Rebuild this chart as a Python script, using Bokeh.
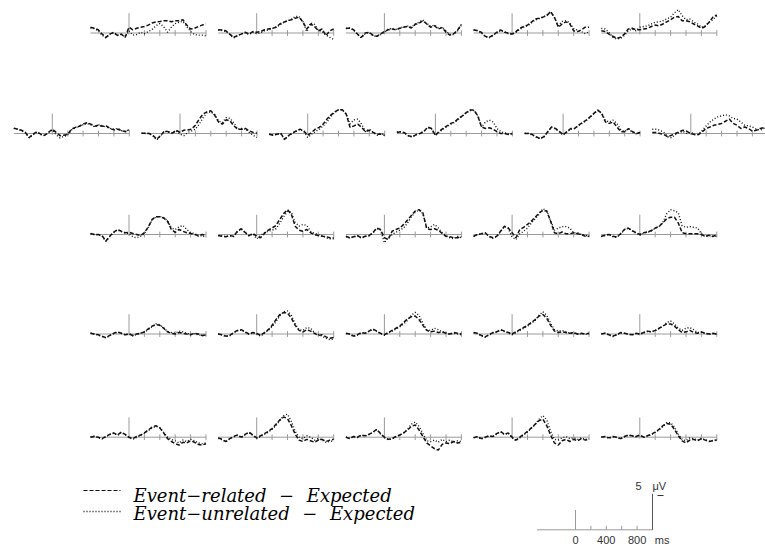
from bokeh.plotting import figure
from bokeh.models import Range1d
from bokeh.core.properties import value
from bokeh.embed import file_html
from bokeh.resources import INLINE

# ---------------- data (µV, sampled every 50 ms from -500 to 1000 ms) ----------------
TIMES = list(range(-500, 1001, 50))
TICKS = [200, 400, 600, 800, 1000]
SCALE_LABELS = ["0", "400", "800"]
SCALE_LABEL_TIMES = [0, 400, 800]
SP = "\u2002\u2009"
LEGEND_LABELS = ["Event\u2212related" + SP + "\u2212" + SP + "Expected",
                 "Event\u2212unrelated" + SP + "\u2212" + SP + "Expected"]

related_row1 = [
    [0.8,0.65,0.45,-0.15,-0.6,-0.15,0.1,-0.35,-0.15,-0.6, 0.8,0.45,0.65,0.8,0.9,1.1,1.4,1.55,1.6,1.7, 1.7,1.55,1.7,1.7,1.85,1.1,0.55,0.65,0.9,1.1, 1.25],
    [0.45,0.4,0.3,-0.15,-0.6,-0.35,-0.15,0.1,-0.15,0.2, 0.1,0.2,0.45,0.55,0.65,0.8,1.25,1.5,1.7,1.85, 2.05,2.2,1.55,0.55,1.25,0.9,0.3,0.55,-0.35,0.3, 0.55],
    [0.65,0.65,0.45,-0.15,-0.6,0.0,0.1,-0.3,-0.45,-0.15, 0.2,0.45,0.55,0.45,0.65,0.8,0.9,0.7,1.2,1.35, 1.7,1.25,0.8,1.0,0.55,0.75,0.1,-0.3,-0.1,0.4, 1.2],
    [0.45,0.3,0.1,-0.45,-0.6,-0.35,0.1,0.45,0.1,0.0, -0.15,0.2,0.65,0.9,1.1,1.5,1.95,2.05,2.2,2.4, 2.95,2.2,0.8,1.25,1.55,1.25,0.3,0.2,0.45,0.8, 0.8],
    [0.3,0.2,-0.15,-0.45,-0.75,-0.6,-0.15,0.55,0.65,0.45, 0.45,0.55,0.65,0.9,1.1,1.0,1.25,1.55,1.85,2.2, 2.3,1.7,1.7,1.55,1.25,1.0,0.65,0.9,1.5,2.2, 2.5],
]
unrelated_row1 = [
    [0.7,0.6,0.3,-0.3,-0.7,-0.2,0.0,-0.3,-0.2,-0.5, 0.3,-0.3,-0.2,0.1,-0.1,0.2,0.5,1.0,1.3,0.9, 0.1,0.8,1.3,1.5,1.6,0.9,0.2,-0.2,-0.3,-0.3, -0.4],
    [0.4,0.35,0.2,-0.2,-0.7,-0.4,-0.1,0.0,-0.2,0.1, -0.1,0.0,0.3,0.4,0.6,0.8,1.1,1.45,1.7,1.9, 2.3,2.3,1.6,0.2,1.4,1.2,0.4,0.2,-0.3,-0.6, -0.9],
    [0.6,0.7,0.4,-0.2,-0.7,-0.1,0.1,-0.35,-0.5,-0.2, 0.1,0.6,0.6,0.5,0.7,0.85,0.95,0.8,1.25,1.5, 1.8,1.35,0.9,1.1,0.7,0.8,0.3,-0.2,-0.2,0.3, 1.1],
    [0.4,0.35,0.0,-0.5,-0.7,-0.3,0.0,0.3,0.2,-0.1, -0.2,0.1,0.5,0.8,1.0,1.4,1.8,2.0,2.2,2.5, 3.0,2.1,1.0,1.6,1.7,1.4,0.6,0.4,0.2,-0.1, 0.2],
    [0.65,0.55,0.1,-0.6,-0.85,-0.75,-0.35,0.3,0.55,0.3, 0.8,0.9,1.0,1.25,1.5,1.55,1.7,1.95,2.2,2.8, 3.25,2.4,1.85,1.95,1.55,1.25,0.8,1.0,1.5,1.85, 2.4],
]

related_row2 = [
    [0.75,0.6,0.45,0.15,-0.55,-0.1,0.25,-0.1,-0.25,0.15, 0.6,0.15,-0.3,-0.25,-0.1,0.6,0.85,1.0,1.3,1.5, 1.3,1.0,1.15,1.0,1.05,0.7,0.5,0.6,0.4,0.25, 0.5],
    [0.05,0.05,0.0,-0.3,-0.8,-0.25,0.35,0.25,0.05,0.45, 0.15,0.45,0.5,0.6,1.15,2.0,2.7,3.0,3.15,2.55, 1.6,1.3,1.9,1.75,1.05,0.6,0.6,0.7,0.35,0.15, 0.05],
    [-0.1,-0.25,-0.1,0.05,-0.8,-0.3,0.05,0.35,0.6,0.35, -0.25,0.15,0.6,0.85,1.3,2.0,2.55,3.0,3.3,3.3, 2.7,0.85,1.05,1.3,0.85,0.25,0.45,0.15,-0.1,-0.1, -0.25],
    [0.15,0.25,0.1,-0.3,-0.45,-0.15,0.0,0.25,0.9,0.7, -0.25,0.3,0.7,1.05,1.4,1.6,2.1,2.45,2.9,3.25, 3.25,2.45,0.9,0.7,0.8,0.6,0.25,0.0,0.0,-0.15, 0.0],
    [0.0,0.0,-0.15,-0.45,-0.7,-0.45,0.25,0.9,0.7,0.3, -0.15,0.25,0.7,0.7,1.15,1.5,1.85,2.3,2.8,3.25, 2.8,1.6,1.4,1.6,0.9,0.25,0.25,0.7,0.25,0.0, 0.15],
    [0.15,0.15,0.0,-0.15,-0.45,-0.25,0.0,0.25,0.45,0.3, 0.0,-0.15,-0.15,0.25,0.7,0.9,1.15,1.25,1.4,1.7, 2.0,1.4,1.15,0.7,0.9,0.7,0.3,0.45,0.7,0.8, 0.9],
]
unrelated_row2 = [
    [0.7,0.6,0.4,0.1,-0.6,-0.2,0.2,-0.15,-0.3,0.1, 0.5,-0.2,-0.6,-0.4,-0.2,0.5,0.8,1.0,1.2,1.4, 1.2,0.9,1.2,1.1,0.9,0.7,0.6,0.7,0.4,0.3, 0.6],
    [0.05,0.0,0.0,-0.35,-0.9,-0.3,0.3,0.2,0.0,0.35, -0.1,-0.3,0.15,0.35,0.6,1.3,2.2,2.9,3.0,2.65, 1.75,1.5,2.2,2.1,1.45,0.6,0.7,0.6,0.15,-0.25, -0.55],
    [-0.1,-0.2,-0.1,0.0,-0.85,-0.35,0.0,0.3,0.55,0.3, -0.55,-0.1,0.25,0.6,1.05,1.6,2.35,2.9,3.3,3.3, 2.7,1.3,1.9,2.0,1.3,0.25,0.6,0.15,-0.25,0.05, -0.3],
    [0.2,0.2,0.05,-0.35,-0.5,-0.2,0.05,0.3,0.85,0.6, -0.3,0.2,0.6,0.95,1.3,1.55,2.0,2.4,2.85,3.2, 3.2,2.5,0.9,1.6,1.85,1.6,0.7,0.25,0.1,-0.1, -0.05],
    [0.05,0.0,-0.2,-0.5,-0.75,-0.5,0.2,0.85,0.65,0.25, -0.2,0.2,0.6,0.7,1.1,1.45,1.8,2.25,2.75,3.2, 2.85,1.8,1.6,1.85,1.4,0.5,0.3,0.6,0.2,-0.05, 0.1],
    [0.6,0.6,0.45,0.15,-0.45,-0.6,-0.15,0.15,0.3,0.0, 0.15,-0.15,-0.15,0.45,1.05,1.6,2.0,2.3,2.45,2.6, 2.45,2.1,2.0,1.6,1.15,1.05,0.9,0.6,0.45,0.7, 0.9],
]

related_row3 = [
    [0.15,0.0,0.0,-0.15,-0.9,-0.25,0.3,0.7,0.45,0.25, 0.3,0.15,0.0,-0.15,0.25,1.05,2.1,2.45,2.45,2.3, 1.85,0.7,0.3,0.7,0.45,0.25,0.15,0.0,-0.15,0.0, -0.15],
    [-0.15,-0.25,-0.3,-0.15,-0.25,0.45,0.8,0.3,-0.15,0.15, -0.25,-0.45,0.15,0.6,0.9,1.25,2.1,2.9,3.45,2.8, 1.15,0.6,0.45,0.7,0.25,0.0,-0.15,-0.25,-0.3,-0.45, -0.45],
    [-0.25,-0.45,-0.3,-0.15,-0.45,-0.25,-0.15,0.25,0.9,0.7, -0.45,-0.7,0.45,0.7,0.9,1.4,2.0,2.65,3.25,3.45, 3.0,0.8,0.7,0.8,0.6,0.15,-0.25,-0.3,-0.45,-0.45, -0.3],
    [-0.25,0.0,0.1,0.25,-0.25,-0.45,-0.25,0.45,1.15,0.9, 0.25,-0.45,0.7,1.0,1.4,1.85,2.4,3.0,3.35,3.25, 1.85,0.25,0.1,0.35,0.1,0.1,0.25,0.1,0.0,-0.25, -0.25],
    [-0.25,-0.1,0.0,-0.25,-0.35,0.1,0.7,0.9,0.55,0.25, 0.0,0.25,0.35,0.55,0.9,1.15,1.6,2.2,2.4,2.4, 1.6,0.25,0.1,0.1,0.1,0.1,0.0,-0.25,-0.1,-0.25, -0.1],
]
unrelated_row3 = [
    [0.1,0.0,-0.05,-0.2,-0.95,-0.3,0.25,0.65,0.4,0.2, 0.15,-0.35,-0.45,-0.25,0.15,0.95,2.0,2.45,2.5,2.35, 1.9,0.9,0.7,1.05,1.25,0.7,0.25,0.15,-0.25,-0.15, -0.45],
    [-0.15,-0.2,-0.3,-0.2,-0.3,0.4,0.75,0.25,-0.2,0.1, -0.6,-0.15,0.25,0.45,0.6,0.8,1.55,2.45,3.25,3.1, 1.7,1.15,1.4,1.25,0.45,0.15,0.0,-0.15,-0.45,-0.6, -0.6],
    [-0.3,-0.5,-0.35,-0.2,-0.5,-0.3,-0.2,0.2,0.85,0.6, -1.15,-0.45,0.0,0.3,0.6,0.9,1.6,2.45,3.1,3.4, 2.9,0.9,1.05,1.4,0.9,0.25,-0.15,-0.45,-0.6,-0.25, -0.45],
    [-0.3,0.0,0.05,0.2,-0.3,-0.5,-0.3,0.4,1.1,0.85, -0.35,-0.7,0.1,0.45,0.9,1.6,2.2,2.8,3.6,3.25, 1.95,0.6,0.9,1.1,1.1,0.9,0.2,0.25,0.0,-0.1, -0.25],
    [-0.3,-0.15,0.05,-0.3,-0.4,0.05,0.65,0.85,0.5,0.2, -0.1,0.2,0.3,0.5,0.85,1.1,1.7,2.9,3.45,3.3, 3.0,1.2,1.0,1.1,1.0,0.9,0.1,-0.3,-0.15,-0.3, -0.2],
]

related_row4 = [
    [0.1,0.0,-0.1,-0.3,-0.5,-0.2,0.1,0.3,0.1,-0.1, 0.0,-0.2,0.0,0.1,0.3,0.7,1.1,1.3,1.2,0.8, 0.3,0.1,0.0,0.2,0.1,0.0,-0.1,0.1,0.0,-0.2, -0.1],
    [0.0,-0.1,-0.3,-0.2,0.2,0.5,0.6,0.3,0.0,0.2, 0.1,-0.2,0.2,0.6,1.2,2.0,2.7,3.0,2.9,2.2, 1.2,0.5,0.3,0.6,0.4,0.1,-0.2,-0.1,-0.4,-0.6, -0.5],
    [0.1,0.0,-0.3,-0.1,0.2,0.1,0.4,0.7,0.4,0.1, -0.1,0.2,0.5,0.8,1.1,1.6,2.1,2.4,2.5,2.0, 1.2,0.5,0.3,0.4,0.2,0.3,0.1,0.0,0.2,0.1, 0.0],
    [0.2,0.1,-0.2,-0.4,-0.1,0.2,0.3,0.6,0.4,0.2, 0.0,0.3,0.6,0.9,1.2,1.6,2.0,2.5,2.7,2.2, 1.2,0.4,0.2,0.3,0.2,0.1,0.2,0.0,0.1,0.0, 0.1],
    [0.0,0.1,-0.1,-0.3,-0.1,0.2,0.1,0.0,-0.1,0.1, 0.0,0.2,0.4,0.3,0.5,0.8,1.1,1.4,1.4,1.1, 0.6,0.2,0.3,0.5,0.2,0.1,0.3,0.1,0.0,0.1, 0.0],
]
unrelated_row4 = [
    [0.15,0.0,-0.15,-0.35,-0.55,-0.25,0.05,0.25,0.1,-0.15, 0.05,-0.25,-0.05,0.1,0.25,0.6,1.0,1.4,1.3,0.85, 0.35,0.2,0.1,0.4,0.3,0.1,-0.05,0.05,-0.1,-0.25, -0.15],
    [0.05,-0.15,-0.35,-0.25,0.15,0.45,0.55,0.25,-0.05,0.15, 0.0,-0.3,0.1,0.5,1.0,1.7,2.5,3.1,3.2,2.6, 1.4,0.6,0.5,0.9,0.8,0.2,-0.1,-0.3,-0.6,-0.8, -0.7],
    [0.05,-0.05,-0.35,-0.15,0.15,0.1,0.35,0.65,0.35,0.05, -0.2,0.1,0.4,0.7,1.0,1.4,1.9,2.6,3.0,2.6, 1.5,0.6,0.5,0.8,0.6,0.3,0.15,-0.05,0.1,0.0, -0.1],
    [0.15,0.05,-0.25,-0.45,-0.15,0.15,0.25,0.55,0.35,0.15, -0.1,0.2,0.5,0.8,1.1,1.5,1.9,2.6,3.1,2.6, 1.5,0.6,0.4,0.5,0.3,0.1,0.15,-0.05,0.05,-0.05, 0.0],
    [0.05,0.1,-0.15,-0.35,-0.15,0.15,0.1,-0.05,-0.15,0.05, -0.05,0.15,0.35,0.3,0.45,0.75,1.1,1.6,1.8,1.4, 0.8,0.5,0.8,0.9,0.6,0.2,0.25,0.05,-0.05,0.05, -0.05],
]

related_row5 = [
    [0.0,0.1,0.0,-0.2,0.1,0.4,0.6,0.3,0.7,0.4, 0.0,-0.2,0.1,0.3,0.6,1.0,1.4,1.6,1.3,0.6, -0.2,-0.6,-0.9,-1.1,-0.7,-0.8,-0.5,-0.7,-1.0,-1.1, -0.9],
    [-0.1,-0.3,-0.6,-0.2,0.1,0.3,0.0,0.4,0.7,0.3, -0.1,0.2,0.5,0.8,1.2,1.8,2.4,2.8,2.6,1.6, 0.4,-0.4,-0.6,-0.3,-0.5,-0.7,-0.4,-0.3,-0.6,-0.4, -0.3],
    [0.0,-0.2,0.1,0.0,0.3,0.2,0.4,0.7,1.1,0.5, 0.0,-0.3,-0.2,0.1,0.3,0.6,1.0,1.5,1.7,1.0, 0.1,-0.8,-1.2,-1.6,-1.8,-1.0,-0.8,-0.9,-0.6,-0.8, -0.7],
    [-0.1,0.1,-0.2,0.0,0.2,0.1,0.5,0.8,0.4,0.6, 0.0,-0.4,0.0,0.4,0.8,1.3,1.8,2.3,2.5,1.6, 0.3,-0.8,-1.1,-0.5,-0.3,-0.6,-0.3,-0.5,-0.2,-0.4, -0.3],
    [0.0,0.1,-0.1,0.1,0.0,-0.2,0.1,0.3,0.2,0.1, 0.3,0.0,0.2,0.4,0.7,1.1,1.6,1.9,1.8,1.1, 0.2,-0.5,-0.8,-0.4,-0.3,-0.5,-0.2,-0.4,-0.6,-0.5, -0.4],
]
unrelated_row5 = [
    [0.05,0.15,-0.05,-0.25,0.05,0.35,0.55,0.25,0.65,0.35, -0.05,-0.3,0.0,0.25,0.55,0.9,1.3,1.5,1.35,0.7, 0.0,-0.3,-0.5,-0.8,-0.4,-0.6,-0.3,-0.5,-0.8,-0.9, -0.8],
    [-0.15,-0.35,-0.65,-0.25,0.05,0.25,-0.05,0.35,0.65,0.25, -0.2,0.1,0.4,0.7,1.1,1.6,2.3,3.0,3.2,2.2, 0.8,0.0,-0.2,0.2,0.0,-0.4,-0.2,-0.4,-0.7,-0.6, -0.5],
    [0.05,-0.15,0.05,-0.05,0.25,0.15,0.35,0.65,1.05,0.45, -0.05,-0.35,-0.25,0.05,0.3,0.6,1.1,1.8,2.1,1.5, 0.5,-0.5,-0.6,-0.4,-0.7,-0.3,-0.6,-0.4,-0.7,-0.5, -0.6],
    [-0.05,0.05,-0.25,-0.05,0.15,0.05,0.45,0.75,0.35,0.55, -0.1,-0.5,-0.1,0.3,0.7,1.2,1.8,2.5,3.0,2.4, 0.8,-0.3,-0.4,-0.1,0.1,-0.2,-0.1,-0.3,-0.1,-0.3, -0.2],
    [0.05,0.05,-0.15,0.05,-0.05,-0.25,0.05,0.25,0.15,0.05, 0.25,-0.05,0.15,0.35,0.65,1.0,1.5,2.0,2.0,1.4, 0.4,-0.3,-0.5,-0.1,-0.2,-0.4,-0.15,-0.35,-0.55,-0.45, -0.35],
]

# ---------------- layout ----------------
W, H = 765, 549
MS_PER_PX = 1500 / 115.5      # horizontal scale: one epoch (1500 ms) = 115.5 px
UV_PER_PX = 5 / 36            # vertical scale: 5 µV = 36 px

def X(px):
    return px * MS_PER_PX

def Y(py):
    return -py * UV_PER_PX

COL_STEP = 127.7
rows = [
    (90.0, 32.5, related_row1, unrelated_row1),
    (13.3, 133.0, related_row2, unrelated_row2),
    (90.0, 234.0, related_row3, unrelated_row3),
    (90.0, 333.5, related_row4, unrelated_row4),
    (90.0, 436.7, related_row5, unrelated_row5),
]

AXIS = "#9a9a9a"
INK = "#111111"

p = figure(width=W, height=H, x_range=Range1d(0, W * MS_PER_PX), y_range=Range1d(-H * UV_PER_PX, 0),
           output_backend="svg", toolbar_location=None, min_border=0,
           x_axis_type=None, y_axis_type=None)
p.grid.visible = False
p.outline_line_color = None
p.background_fill_color = "white"
p.border_fill_color = "white"


def draw_panel(left_px, base_px, rel, unrel):
    assert len(rel) == len(TIMES) and len(unrel) == len(TIMES)
    x0 = X(left_px) + 500
    y0 = Y(base_px)
    p.line([x0 - 500, x0 + 1000], [y0, y0], line_color=AXIS, line_width=1)
    p.line([x0, x0], [y0 - 0.2, y0 + 2.75], line_color=AXIS, line_width=1)
    p.segment(x0=[x0 + t for t in TICKS], y0=[y0 - 0.4] * len(TICKS),
              x1=[x0 + t for t in TICKS], y1=[y0 + 0.4] * len(TICKS),
              line_color=AXIS, line_width=1)
    p.line([x0 + t for t in TIMES], [y0 + v for v in unrel], line_color=INK,
           line_width=1.4, line_dash="1 2")
    p.line([x0 + t for t in TIMES], [y0 + v for v in rel], line_color=INK,
           line_width=1.5, line_dash="4 2")


for left, base, rel_list, unrel_list in rows:
    for i, (rel, unrel) in enumerate(zip(rel_list, unrel_list)):
        draw_panel(left + i * COL_STEP, base, rel, unrel)

# ---------------- legend ----------------
p.line([X(83), X(120)], [Y(490), Y(490)], line_color=INK, line_width=1.2, line_dash="4 2")
p.line([X(83), X(122)], [Y(511), Y(511)], line_color=INK, line_width=1.3, line_dash="1 2")
p.text(x=[X(133), X(133)], y=[Y(495), Y(513)], text=LEGEND_LABELS,
       text_font=value("DejaVu Serif"), text_font_style="italic", text_font_size="18px",
       text_color="black", text_baseline="alphabetic", text_align="left")

# ---------------- calibration bar ----------------
cx0 = X(575)
cy0 = Y(529.3)
p.line([cx0 - 500, cx0 + 1000], [cy0, cy0], line_color=AXIS, line_width=1)
p.line([cx0, cx0], [cy0, cy0 + 2.75], line_color=AXIS, line_width=1)
p.segment(x0=[cx0 + t for t in [200, 400, 600, 800]], y0=[cy0] * 4,
          x1=[cx0 + t for t in [200, 400, 600, 800]], y1=[cy0 + 0.55] * 4,
          line_color=AXIS, line_width=1)
p.line([cx0 + 1000, cx0 + 1000], [cy0, cy0 + 5], line_color="#555555", line_width=1)
p.line([cx0 + 1065, cx0 + 1143], [cy0 + 4.76, cy0 + 4.76], line_color="#333333", line_width=1)
p.text(x=[cx0 + t for t in SCALE_LABEL_TIMES], y=[Y(539)] * 3, text=SCALE_LABELS,
       text_font=value("Liberation Sans"), text_font_size="11px", text_color="#333333",
       text_align="center", text_baseline="alphabetic")
p.text(x=[cx0 + 1030], y=[Y(539)], text=["ms"],
       text_font=value("Liberation Sans"), text_font_size="11px", text_color="#333333",
       text_align="left", text_baseline="alphabetic")
p.text(x=[cx0 + 860], y=[Y(485)], text=["5"],
       text_font=value("Liberation Sans"), text_font_size="11px", text_color="#333333",
       text_align="right", text_baseline="alphabetic")
p.text(x=[cx0 + 1000], y=[Y(485)], text=["\u03bcV"],
       text_font=value("Liberation Sans"), text_font_size="11px", text_color="#333333",
       text_align="left", text_baseline="alphabetic")

open("out.html", "w").write(file_html(p, INLINE))
